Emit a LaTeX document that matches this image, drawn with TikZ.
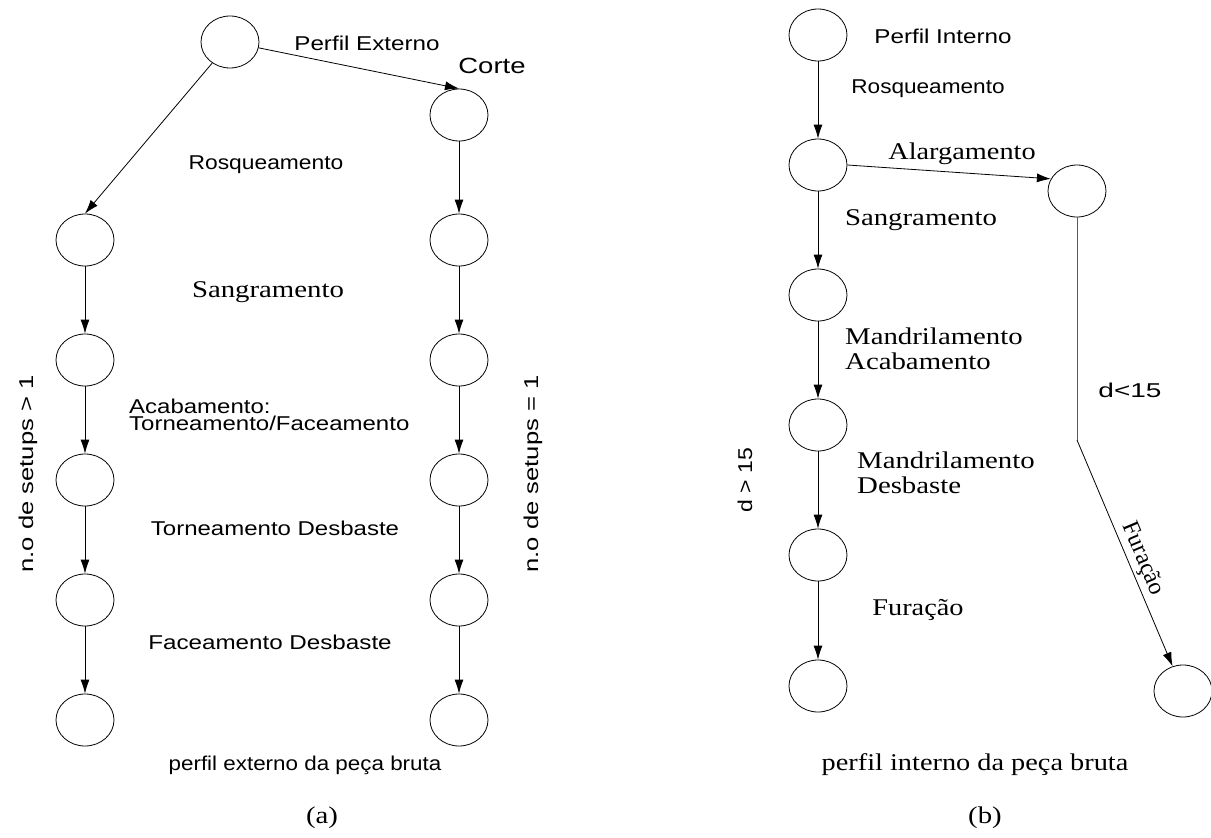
\documentclass[tikz,border=0pt]{standalone}
\usepackage{fontspec}
\setmainfont{Liberation Serif}
\setsansfont{Liberation Sans}
\usetikzlibrary{shapes.geometric,arrows.meta}
% horizontal stretch of a label
\newcommand\wx[2]{\scalebox{#1}[1]{#2}}

\begin{document}
\begin{tikzpicture}[x=1pt,y=1pt,
  state/.style={draw, ellipse, minimum width=58pt, minimum height=52pt, inner sep=0pt, line width=0.8pt},
  flow/.style={line width=0.8pt, -{Latex[length=14pt,width=9pt]}},
  plainline/.style={line width=0.8pt},
  sanslbl/.style={font=\sffamily\fontsize{20}{17.5}\selectfont, inner sep=0pt},
  seriflbl/.style={font=\rmfamily\fontsize{24}{25}\selectfont, inner sep=0pt},
]
\useasboundingbox (0,0) rectangle (1211,-838);

% ---------------- (a) external profile ----------------
\node[state] (A0) at (230,-42) {};
\foreach \i/\y in {1/240,2/360,3/480,4/600,5/720}
  \node[state] (L\i) at (85,-\y) {};
\foreach \i/\y in {1/115,2/240,3/360,4/480,5/600,6/720}
  \node[state] (R\i) at (459,-\y) {};

\draw[flow] (A0) -- (L1.north);
\draw[flow] (A0) -- (R1.north);
\foreach \a/\b in {L1/L2,L2/L3,L3/L4,L4/L5}
  \draw[flow] (\a) -- (\b);
\foreach \a/\b in {R1/R2,R2/R3,R3/R4,R4/R5,R5/R6}
  \draw[flow] (\a) -- (\b);

\node[sanslbl] (tPE) at (367,-43) {\wx{1.21}{Perfil Externo}};
\node[sanslbl, font=\sffamily\fontsize{22}{24}\selectfont] (tCorte) at (492,-66) {\wx{1.25}{Corte}};
\node[sanslbl] (tRa) at (266,-165) {\wx{1.14}{Rosqueamento}};
\node[seriflbl] (tSa) at (268,-292) {\wx{1.2}{Sangramento}};
\node[sanslbl, anchor=west, align=left] (tAca) at (129,-415)
  {\wx{1.2}{Acabamento:}\\\wx{1.2}{Torneamento/Faceamento}};
\node[sanslbl] (tTD) at (275,-528) {\wx{1.2}{Torneamento Desbaste}};
\node[sanslbl] (tFD) at (270,-642) {\wx{1.21}{Faceamento Desbaste}};
\node[sanslbl] (tPEB) at (305,-765) {\wx{1.12}{perfil externo da peça bruta}};
\node[seriflbl] (tA) at (322,-818) {\wx{1.2}{(a)}};
\node[sanslbl, rotate=90] (tS1) at (28,-474) {\wx{1.28}{n.o de setups > 1}};
\node[sanslbl, rotate=90] (tS2) at (533,-474) {\wx{1.28}{n.o de setups = 1}};

% ---------------- (b) internal profile ----------------
\foreach \i/\y in {0/35,1/165,2/295,3/425,4/555,5/686}
  \node[state] (B\i) at (818,-\y) {};
\node[state] (C1) at (1077,-191) {};
\node[state] (C2) at (1183,-691) {};
\coordinate (bend) at (1077,-440);

\foreach \a/\b in {B0/B1,B1/B2,B2/B3,B3/B4,B4/B5}
  \draw[flow] (\a) -- (\b);
\draw[flow] (B1.east) -- (C1.155);
\draw[plainline, draw=black!65, line width=1pt] (C1) -- (bend);
\draw[flow] (bend) -- (C2)
  node[seriflbl, sloped, above=3pt, pos=0.55] (tFur2) {Furação};

\node[sanslbl] (tPI) at (943,-36) {\wx{1.21}{Perfil Interno}};
\node[sanslbl] (tRb) at (928,-89) {\wx{1.13}{Rosqueamento}};
\node[seriflbl] (tAl) at (962,-154) {\wx{1.18}{Alargamento}};
\node[seriflbl] (tSb) at (921,-220) {\wx{1.2}{Sangramento}};
\node[seriflbl, anchor=west, align=left] (tMA) at (845,-349)
  {\wx{1.2}{Mandrilamento}\\\wx{1.2}{Acabamento}};
\node[seriflbl, anchor=west, align=left] (tMD) at (857,-473)
  {\wx{1.2}{Mandrilamento}\\\wx{1.2}{Desbaste}};
\node[seriflbl] (tFur1) at (918,-610) {\wx{1.18}{Furação}};
\node[sanslbl] (tD1) at (1130,-390) {\wx{1.4}{d<15}};
\node[sanslbl, rotate=90] (tD2) at (745,-480) {\wx{1.15}{d > 15}};
\node[seriflbl] (tPIB) at (975,-765) {\wx{1.18}{perfil interno da peça bruta}};
\node[seriflbl] (tB) at (985,-818) {\wx{1.2}{(b)}};
\end{tikzpicture}
\end{document}
